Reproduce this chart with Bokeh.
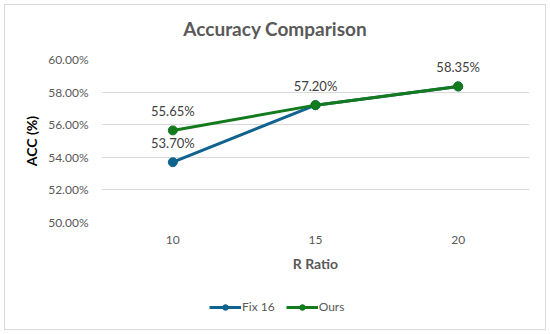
from bokeh.plotting import figure
from bokeh.layouts import column
from bokeh.models import (ColumnDataSource, NumeralTickFormatter, FixedTicker, Range1d,
                          Legend, LegendItem, Div)
from bokeh.core.properties import value
from bokeh.embed import file_html
from bokeh.resources import INLINE

r_ratio = [10, 15, 20]
fix16 = [0.5370, 0.5720, 0.5835]
ours = [0.5565, 0.5720, 0.5835]
y_ticks = [0.50, 0.52, 0.54, 0.56, 0.58, 0.60]
series_names = ["Fix 16", "Ours"]
title_text = "Accuracy Comparison"

BLUE = "#10628F"
GREEN = "#137A1E"
FONT = "Lato"

title = Div(text='<div style="margin-top:13px;text-align:center;width:540px;font-family:Lato;'
                 'font-size:19px;font-weight:bold;color:#595959;line-height:22px;">'
                 + title_text + '</div>',
            width=540, height=38, margin=0)

p = figure(width=540, height=252, output_backend="svg", toolbar_location=None,
           x_range=Range1d(7.5, 22.5), y_range=Range1d(0.50, 0.60),
           min_border_left=96, min_border_right=16, min_border_top=16, min_border_bottom=73)
p.outline_line_color = None
p.background_fill_color = "white"
p.border_fill_color = "white"

# axes
p.xaxis.ticker = FixedTicker(ticks=r_ratio)
p.yaxis.ticker = FixedTicker(ticks=y_ticks)
p.yaxis.formatter = NumeralTickFormatter(format="0.00%")
for ax in (p.xaxis[0], p.yaxis[0]):
    ax.major_tick_line_color = None
    ax.minor_tick_line_color = None
    ax.axis_line_color = None
    ax.major_label_text_font = FONT
    ax.major_label_text_font_size = "12px"
    ax.major_label_text_color = "#595959"
    ax.axis_label_text_font = FONT
    ax.axis_label_text_font_size = "14px"
    ax.axis_label_text_font_style = "bold"
p.xaxis.axis_label = "R Ratio"
p.xaxis.axis_label_text_color = "#595959"
p.yaxis.axis_label = "ACC (%)"
p.yaxis.axis_label_text_color = "#000000"
p.xaxis.major_label_standoff = 7
p.xaxis.axis_label_standoff = 8
p.yaxis.major_label_standoff = 7
p.yaxis.axis_label_standoff = 5

p.xgrid.grid_line_color = None
p.ygrid.ticker = FixedTicker(ticks=y_ticks)
p.ygrid.grid_line_color = "#D9D9D9"
p.ygrid.grid_line_width = 1

src_fix = ColumnDataSource(dict(x=r_ratio, y=fix16))
src_ours = ColumnDataSource(dict(x=r_ratio, y=ours, lab=["%.2f%%" % (v * 100) for v in ours]))

p.line("x", "y", source=src_fix, line_color=BLUE, line_width=3)
p.scatter("x", "y", source=src_fix, size=9, fill_color=BLUE, line_color=BLUE)
p.line("x", "y", source=src_ours, line_color=GREEN, line_width=3)
p.scatter("x", "y", source=src_ours, size=9, fill_color=GREEN, line_color=GREEN)

# data labels: Ours everywhere, Fix 16 only where it differs
fix_only = [i for i in range(len(r_ratio)) if fix16[i] != ours[i]]
src_fix_lab = ColumnDataSource(dict(x=[r_ratio[i] for i in fix_only],
                                    y=[fix16[i] for i in fix_only],
                                    lab=["%.2f%%" % (fix16[i] * 100) for i in fix_only]))
for src in (src_ours, src_fix_lab):
    p.text("x", "y", text="lab", source=src, text_font=value(FONT), text_font_size="13px",
           text_color="#404040", text_align="center", text_baseline="bottom", y_offset=-11)

# legend strip (its renderers hold the series but lie outside its visible range)
lg = figure(width=540, height=34, output_backend="svg", toolbar_location=None,
            x_range=Range1d(0, 1), y_range=Range1d(0, 1),
            x_axis_type=None, y_axis_type=None,
            min_border_left=0, min_border_right=0, min_border_top=0, min_border_bottom=0)
lg.outline_line_color = None
lg.grid.visible = False
lg.background_fill_color = "white"
lg.border_fill_color = "white"
items = []
for name, col, vals in zip(series_names, (BLUE, GREEN), (fix16, ours)):
    r1 = lg.line(x=r_ratio, y=vals, line_color=col, line_width=3)
    r2 = lg.scatter(x=r_ratio, y=vals, size=9, fill_color=col, line_color=col)
    items.append(LegendItem(label=name, renderers=[r1, r2]))
legend = Legend(items=items, orientation="horizontal", location=(108, 15),
                padding=0, margin=0, spacing=11, glyph_width=32, glyph_height=14,
                label_height=14, label_standoff=1, border_line_color=None,
                background_fill_alpha=0,
                label_text_font=FONT, label_text_font_size="12px", label_text_color="#595959")
lg.add_layout(legend, "center")

layout = column(title, p, lg, spacing=0,
                styles={"border": "1px solid #D9D9D9", "margin": "4px", "background": "white"})

open("out.html", "w").write(file_html(layout, INLINE))
